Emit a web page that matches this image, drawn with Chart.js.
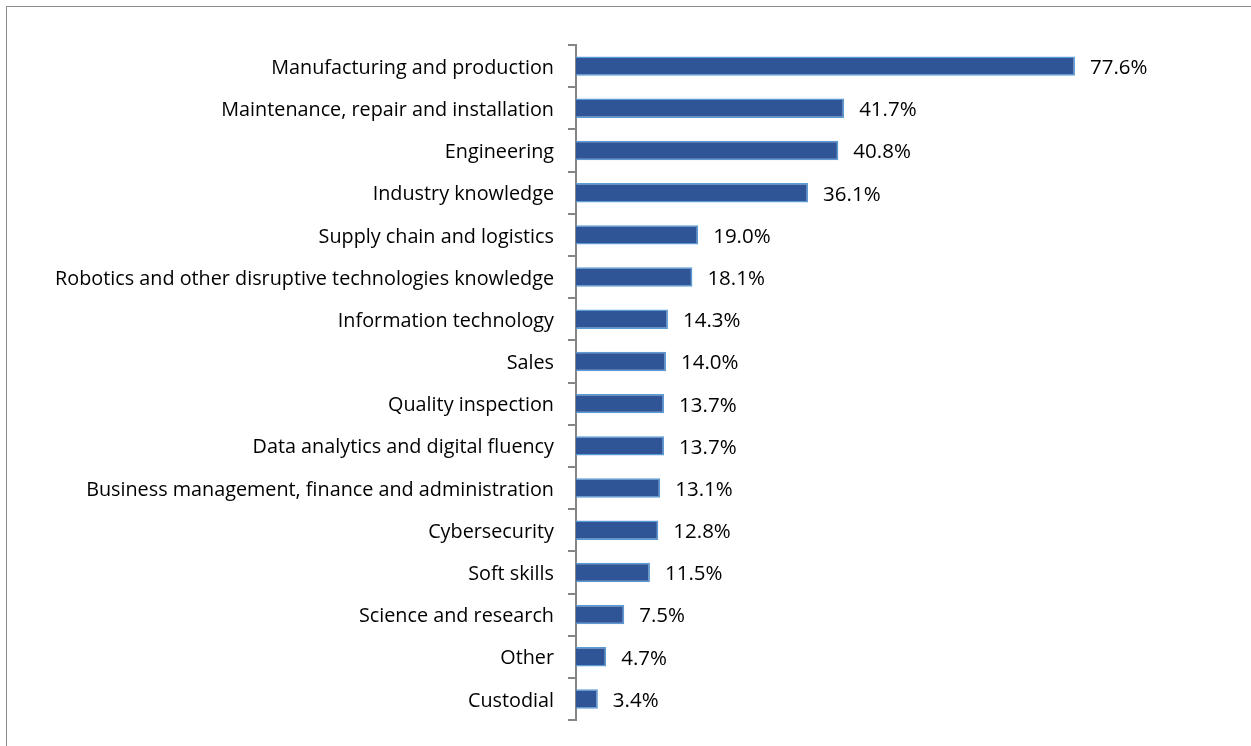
<!DOCTYPE html>
<html>
<head>
<meta charset="utf-8">
<script src="https://cdn.jsdelivr.net/npm/chart.js@4"></script>
<style>
  html, body { margin: 0; padding: 0; background: #fff; overflow: hidden; }
  #frame {
    position: absolute; left: 6px; top: 6px; width: 1300px; height: 800px;
    border: 1px solid #8c8c8c; box-sizing: border-box;
  }
  #wrap { position: absolute; left: 0; top: 0; width: 1251px; height: 746px; }
</style>
</head>
<body>
<div id="frame"></div>
<div id="wrap"><canvas id="skillsChart"></canvas></div>
<script>
const categories = [
  'Manufacturing and production',
  'Maintenance, repair and installation',
  'Engineering',
  'Industry knowledge',
  'Supply chain and logistics',
  'Robotics and other disruptive technologies knowledge',
  'Information technology',
  'Sales',
  'Quality inspection',
  'Data analytics and digital fluency',
  'Business management, finance and administration',
  'Cybersecurity',
  'Soft skills',
  'Science and research',
  'Other',
  'Custodial'
];
const shares = [77.6, 41.7, 40.8, 36.1, 19.0, 18.1, 14.3, 14.0, 13.7, 13.7, 13.1, 12.8, 11.5, 7.5, 4.7, 3.4];

const FONT = '"Open Sans", Lato, sans-serif';

// writes the percentage just past the end of each bar
const valueLabels = {
  id: 'valueLabels',
  afterDatasetsDraw(chart) {
    const ctx = chart.ctx;
    const meta = chart.getDatasetMeta(0);
    ctx.save();
    ctx.font = '20.5px ' + FONT;
    ctx.fillStyle = '#000';
    ctx.textAlign = 'left';
    ctx.textBaseline = 'middle';
    meta.data.forEach((bar, i) => {
      ctx.fillText(shares[i].toFixed(1) + '%', bar.x + 15, bar.y + 2);
    });
    ctx.restore();
  }
};

new Chart(document.getElementById('skillsChart'), {
  type: 'bar',
  data: {
    labels: categories,
    datasets: [{
      data: shares,
      backgroundColor: '#2F5597',
      borderColor: '#5B9BD5',
      borderWidth: 1.5,
      barPercentage: 0.46,
      categoryPercentage: 1
    }]
  },
  options: {
    indexAxis: 'y',
    responsive: true,
    maintainAspectRatio: false,
    animation: false,
    layout: { padding: { top: 45, bottom: 13, left: 0, right: 32 } },
    plugins: {
      legend: { display: false },
      tooltip: { enabled: false }
    },
    scales: {
      x: { display: false, min: 0, max: 100 },
      y: {
        afterFit(scale) { scale.width = 576; },
        border: { display: true, color: '#868686', width: 2 },
        grid: {
          offset: true,
          drawOnChartArea: false,
          drawTicks: true,
          tickLength: 8,
          color: '#868686',
          lineWidth: 2
        },
        ticks: {
          color: '#000',
          padding: 14,
          labelOffset: 2,
          font: { family: FONT, size: 19.8 }
        }
      }
    }
  },
  plugins: [valueLabels]
});
</script>
</body>
</html>
